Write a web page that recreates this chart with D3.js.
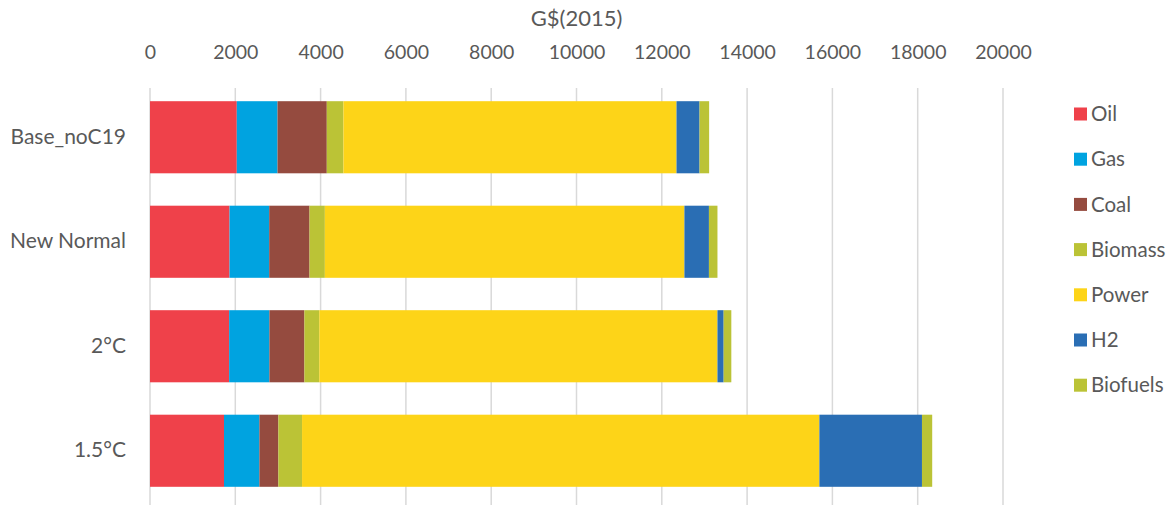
<!DOCTYPE html>
<html>
<head>
<meta charset="utf-8">
<script src="https://cdnjs.cloudflare.com/ajax/libs/d3/7.8.5/d3.min.js"></script>
<style>
  body { margin: 0; background: #fff; }
  text { font-family: Lato, "Open Sans", sans-serif; fill: #595959; }
  .grid line { stroke: #d9d9d9; stroke-width: 1.5; }
</style>
</head>
<body>
<div id="chart"></div>
<script>
const scenarios = ['Base_noC19', 'New Normal', '2°C', '1.5°C'];
const fuels = ['Oil', 'Gas', 'Coal', 'Biomass', 'Power', 'H2', 'Biofuels'];
const colors = ['#EF414A', '#00A3E0', '#954B3F', '#BBC336', '#FDD418', '#2A6EB4', '#BBC336'];

// values per scenario, same order as fuels
const oil      = [2035, 1865, 1855, 1735];
const gas      = [955, 930, 945, 830];
const coal     = [1155, 945, 820, 445];
const biomass  = [390, 360, 350, 555];
const power    = [7810, 8430, 9335, 12130];
const h2       = [540, 575, 145, 2405];
const biofuels = [225, 200, 180, 240];
const xTicks = [0, 2000, 4000, 6000, 8000, 10000, 12000, 14000, 16000, 18000, 20000];

const series = [oil, gas, coal, biomass, power, h2, biofuels];
const rows = scenarios.map((s, i) => {
  const r = {scenario: s};
  fuels.forEach((f, j) => r[f] = series[j][i]);
  return r;
});

const W = 1172, H = 505;
const margin = {top: 85, right: 169, bottom: 2, left: 150};
const width = W - margin.left - margin.right,
      height = H - margin.top - margin.bottom;

const svg = d3.select('#chart').append('svg')
    .attr('width', W)
    .attr('height', H);

const g = svg.append('g')
    .attr('transform', `translate(${margin.left},${margin.top})`);

const x = d3.scaleLinear()
    .domain([0, 20000])
    .range([0, width]);

const y = d3.scaleBand()
    .domain(scenarios)
    .range([0, height])
    .paddingInner(0.31)
    .paddingOuter(0.155);

const color = d3.scaleOrdinal().domain(fuels).range(colors);

// gridlines
g.append('g')
    .attr('class', 'grid')
  .selectAll('line')
  .data(xTicks)
  .enter().append('line')
    .attr('x1', d => x(d))
    .attr('x2', d => x(d))
    .attr('y1', 3)
    .attr('y2', height + margin.bottom);

// top axis labels
const xAxis = g.append('g')
    .call(d3.axisTop(x).tickValues(xTicks).tickSize(0).tickPadding(0).tickFormat(d3.format('d')));
xAxis.select('.domain').remove();
xAxis.selectAll('text')
    .attr('y', -33)
    .attr('dy', '0.35em')
    .style('font-size', '19.5px')
    .style('fill', '#595959');

svg.append('text')
    .attr('x', margin.left + width / 2)
    .attr('y', 18)
    .attr('dy', '0.35em')
    .attr('text-anchor', 'middle')
    .style('font-size', '22px')
    .text('G$(2015)');

// stacked bars
const stacked = d3.stack().keys(fuels)(rows);

g.append('g')
  .selectAll('g')
  .data(stacked)
  .enter().append('g')
    .attr('fill', d => color(d.key))
  .selectAll('rect')
  .data(d => d)
  .enter().append('rect')
    .attr('x', d => x(d[0]))
    .attr('y', d => y(d.data.scenario))
    .attr('width', d => x(d[1]) - x(d[0]))
    .attr('height', y.bandwidth());

// category labels
const yAxis = g.append('g')
    .call(d3.axisLeft(y).tickSize(0).tickPadding(24));
yAxis.select('.domain').remove();
yAxis.selectAll('text')
    .style('font-size', '21px')
    .style('fill', '#595959');

// legend
const legend = svg.append('g')
    .attr('transform', 'translate(1074,114)');

const item = legend.selectAll('g')
  .data(fuels)
  .enter().append('g')
    .attr('transform', (d, i) => `translate(0,${i * 45.2})`);

item.append('rect')
    .attr('x', 0)
    .attr('y', -6.5)
    .attr('width', 13)
    .attr('height', 13)
    .attr('fill', d => color(d));

item.append('text')
    .attr('x', 17)
    .attr('dy', '0.35em')
    .style('font-size', '20.5px')
    .text(d => d);
</script>
</body>
</html>
